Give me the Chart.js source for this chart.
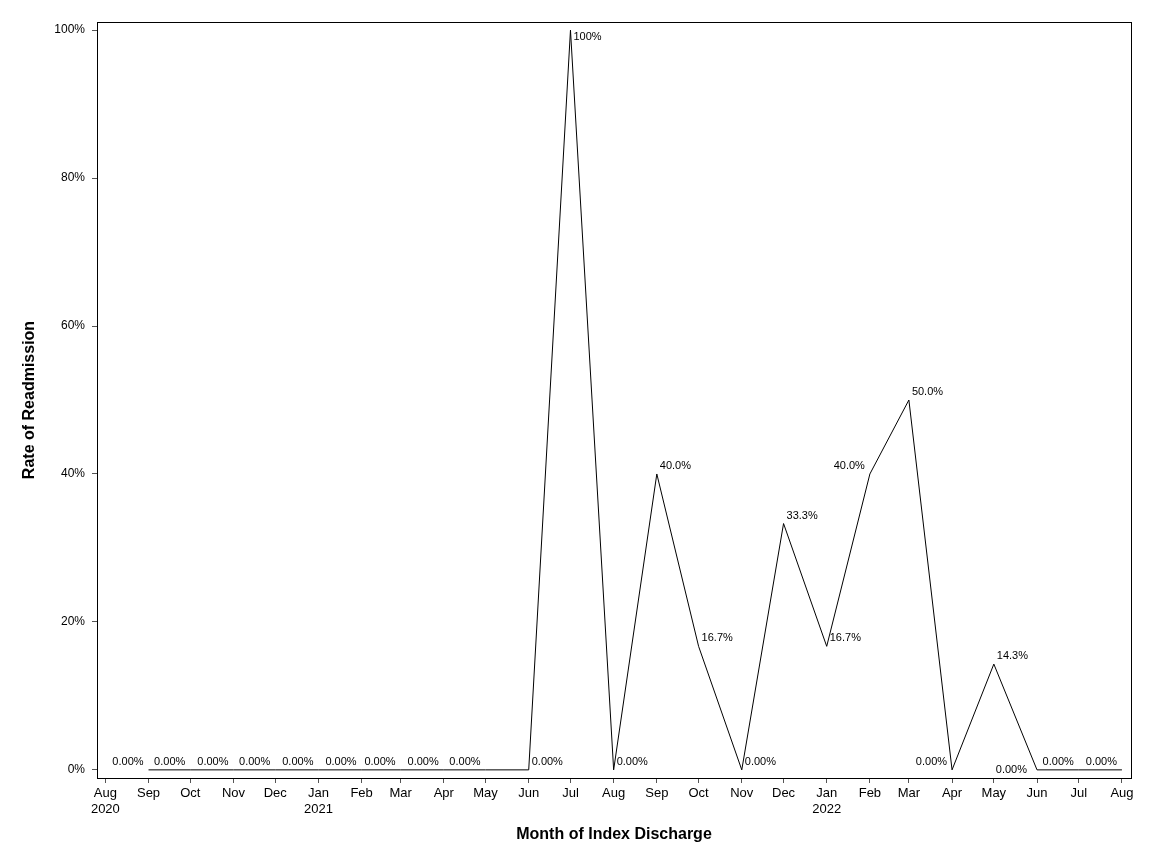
<!DOCTYPE html>
<html>
<head>
<meta charset="utf-8">
<script src="https://cdn.jsdelivr.net/npm/chart.js@4/dist/chart.umd.min.js"></script>
<style>
  html, body { margin: 0; padding: 0; background: #fff; }
  #wrap { width: 1152px; height: 864px; }
</style>
</head>
<body>
<div id="wrap"><canvas id="rateChart"></canvas></div>
<script>
// months of index discharge and readmission rate (%)
const months = [
  "2020-09", "2020-10", "2020-11", "2020-12", "2021-01", "2021-02", "2021-03",
  "2021-04", "2021-05", "2021-06", "2021-07", "2021-08", "2021-09", "2021-10",
  "2021-11", "2021-12", "2022-01", "2022-02", "2022-03", "2022-04", "2022-05",
  "2022-06", "2022-07", "2022-08"
];
const rates = [
  0, 0, 0, 0, 0, 0, 0, 0, 0, 0, 100, 0, 40, 16.7, 0, 33.3, 16.7, 40, 50, 0, 14.3, 0, 0, 0
];
// where each point label sits relative to its point
const labelSide = [
  "la", "la", "la", "la", "la", "la", "la", "la", "la", "ra", "rb", "ra", "ra", "ra",
  "ra", "ra", "ra", "la", "ra", "la", "ra", "lm", "la", "la"
];
// x axis tick marks (month starts)
const tickMonths = [
  "2020-08", "2020-09", "2020-10", "2020-11", "2020-12", "2021-01", "2021-02",
  "2021-03", "2021-04", "2021-05", "2021-06", "2021-07", "2021-08", "2021-09",
  "2021-10", "2021-11", "2021-12", "2022-01", "2022-02", "2022-03", "2022-04",
  "2022-05", "2022-06", "2022-07", "2022-08"
];
const monthNames = ["Jan","Feb","Mar","Apr","May","Jun","Jul","Aug","Sep","Oct","Nov","Dec"];
const yTicks = [0, 20, 40, 60, 80, 100];

// days since 2020-08-01
function toDay(m) {
  const [y, mo] = m.split("-").map(Number);
  return (Date.UTC(y, mo - 1, 1) - Date.UTC(2020, 7, 1)) / 86400000;
}
const tickDays = tickMonths.map(toDay);
const tickLabels = {};
tickMonths.forEach((m, i) => {
  const [y, mo] = m.split("-").map(Number);
  const name = monthNames[mo - 1];
  tickLabels[tickDays[i]] = (i === 0 || mo === 1) ? [name, String(y)] : name;
});
const points = months.map((m, i) => ({ x: toDay(m), y: rates[i] }));

const FONT = "'Liberation Sans', Arial, sans-serif";

const framePlugin = {
  id: "frame",
  afterDraw(chart) {
    const { ctx, chartArea: a } = chart;
    ctx.save();
    ctx.strokeStyle = "#000";
    ctx.lineWidth = 1;
    ctx.strokeRect(Math.round(a.left) + 0.5, Math.round(a.top) + 0.5,
      Math.round(a.right - a.left), Math.round(a.bottom - a.top));
    ctx.restore();
  }
};

const pointLabels = {
  id: "pointLabels",
  afterDatasetsDraw(chart) {
    const { ctx } = chart;
    const meta = chart.getDatasetMeta(0);
    ctx.save();
    ctx.font = "11px " + FONT;
    ctx.fillStyle = "#000";
    meta.data.forEach((pt, i) => {
      const text = rates[i].toPrecision(3) + "%";
      const side = labelSide[i];
      let x = pt.x, y = pt.y;
      ctx.textBaseline = "middle";
      if (side === "la") { ctx.textAlign = "right"; x -= 5; y -= 8; }
      else if (side === "ra") { ctx.textAlign = "left"; x += 3; y -= 8; }
      else if (side === "rb") { ctx.textAlign = "left"; x += 3; y += 7; }
      else if (side === "lm") { ctx.textAlign = "right"; x -= 10; y += 0; }
      ctx.fillText(text, x, y);
    });
    ctx.restore();
  }
};

new Chart(document.getElementById("rateChart"), {
  type: "line",
  data: {
    datasets: [{
      data: points,
      borderColor: "#000",
      borderWidth: 1,
      pointRadius: 0,
      tension: 0,
      fill: false
    }]
  },
  options: {
    responsive: true,
    maintainAspectRatio: false,
    animation: false,
    layout: { padding: { top: 22, right: 21, left: 0, bottom: 0 } },
    plugins: { legend: { display: false }, tooltip: { enabled: false } },
    scales: {
      x: {
        type: "linear",
        min: -6,
        max: 736.5,
        afterBuildTicks(axis) { axis.ticks = tickDays.map(v => ({ value: v })); },
        afterFit(scale) { scale.height = 86; },
        ticks: {
          autoSkip: false,
          maxRotation: 0,
          padding: 3,
          color: "#000",
          font: { family: FONT, size: 13 },
          callback: (v) => tickLabels[v]
        },
        grid: { display: true, drawOnChartArea: false, drawTicks: true, tickLength: 5, color: "#555" },
        border: { display: true, color: "#000" },
        title: {
          display: true,
          text: "Month of Index Discharge",
          color: "#000",
          font: { family: FONT, size: 16, weight: "bold" },
          padding: { top: 0, bottom: 20 }
        }
      },
      y: {
        min: -1.1,
        max: 101.1,
        afterBuildTicks(axis) { axis.ticks = yTicks.map(v => ({ value: v })); },
        afterFit(scale) { scale.width = 97; },
        ticks: {
          padding: 7,
          color: "#000",
          font: { family: FONT, size: 12 },
          callback: (v) => v + "%"
        },
        grid: { display: true, drawOnChartArea: false, drawTicks: true, tickLength: 5, color: "#555" },
        border: { display: true, color: "#000" },
        title: {
          display: true,
          text: "Rate of Readmission",
          color: "#000",
          font: { family: FONT, size: 16, weight: "bold" },
          padding: { top: 20, bottom: 0 }
        }
      }
    }
  },
  plugins: [framePlugin, pointLabels]
});
</script>
</body>
</html>
